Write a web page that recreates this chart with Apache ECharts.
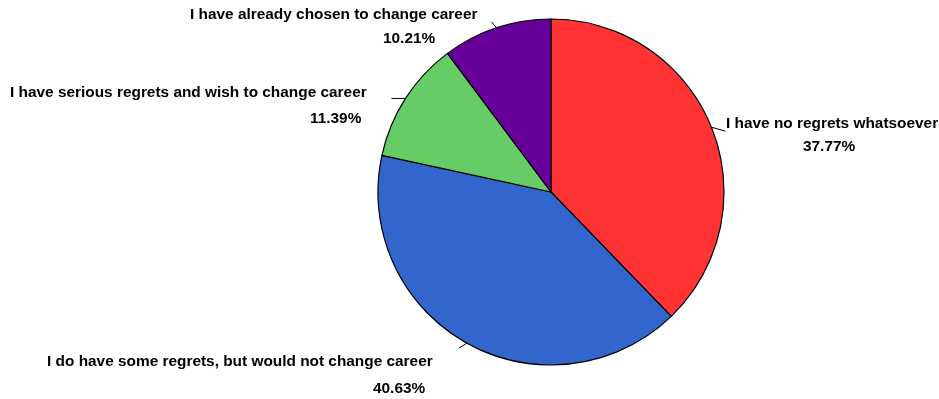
<!DOCTYPE html>
<html>
<head>
<meta charset="utf-8">
<script src="https://cdn.jsdelivr.net/npm/echarts@6/dist/echarts.min.js"></script>
<style>
  html, body { margin: 0; padding: 0; background: #fff; }
  #chart { width: 939px; height: 399px; }
</style>
</head>
<body>
<div id="chart"></div>
<script>
// Survey answers, clockwise from 12 o'clock
const answers = [
  'I have no regrets whatsoever',
  'I do have some regrets, but would not change career',
  'I have serious regrets and wish to change career',
  'I have already chosen to change career'
];
const shares = [37.77, 40.63, 11.39, 10.21];
const sliceColors = ['#ff3333', '#3366cc', '#66cc66', '#660099'];

// Label placement: left edge of the answer line, vertical centre of that line,
// horizontal offset of the percentage line, line pitch, and leader-tick direction
const labelSpots = [
  { x: 726, y: 124, pctDx: 77,  pitch: 23, tick: [14, 4] },
  { x: 47,  y: 362, pctDx: 326, pitch: 27, tick: [-8, 5] },
  { x: 10,  y: 93,  pctDx: 300, pitch: 26, tick: [-14, 0] },
  { x: 190, y: 15,  pctDx: 193, pitch: 24, tick: [-5, -6] }
];

const font = { fontFamily: '"Liberation Sans", Arial, sans-serif', fontWeight: 'bold', fontSize: 15.4, color: '#000' };
const rich = { n: Object.assign({ lineHeight: 20 }, font) };
labelSpots.forEach((s, i) => {
  rich['p' + i] = Object.assign({ lineHeight: 2 * s.pitch - 20, padding: [0, 0, 0, s.pctDx] }, font);
});

const chart = echarts.init(document.getElementById('chart'), null, { renderer: 'canvas' });
chart.setOption({
  animation: false,
  backgroundColor: '#fff',
  series: [{
    type: 'pie',
    center: [551, 192],
    radius: 173,
    startAngle: 90,
    clockwise: true,
    avoidLabelOverlap: false,
    emphasis: { disabled: true },
    itemStyle: { borderColor: '#000', borderWidth: 1.2 },
    data: answers.map((name, i) => ({ name, value: shares[i], itemStyle: { color: sliceColors[i] } })),
    label: {
      show: true,
      position: 'outside',
      align: 'left',
      rich,
      formatter: p => '{n|' + p.name + '}\n{p' + p.dataIndex + '|' + p.value.toFixed(2) + '%}'
    },
    labelLine: { show: true, length: 8, length2: 0, lineStyle: { color: '#000', width: 1 } },
    labelLayout: params => {
      const s = labelSpots[params.dataIndex];
      const out = { x: s.x, y: s.y - 10, align: 'left', verticalAlign: 'top' };
      const pts = params.labelLinePoints;
      if (pts && pts.length) {
        const p0 = pts[0];
        out.labelLinePoints = [[p0[0], p0[1]], [p0[0] + s.tick[0], p0[1] + s.tick[1]]];
      }
      return out;
    }
  }]
});
</script>
</body>
</html>
